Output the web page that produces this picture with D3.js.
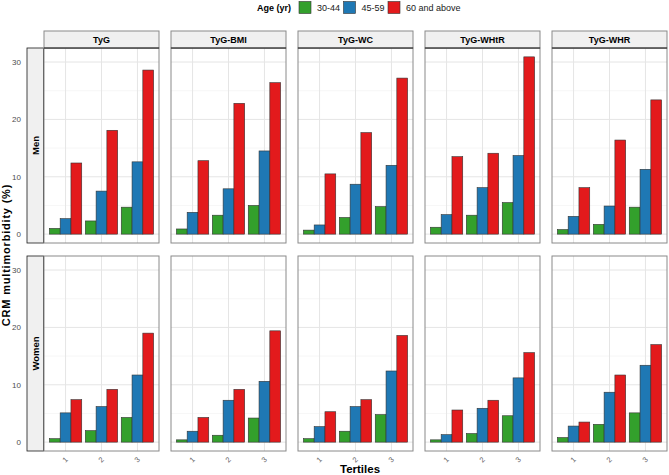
<!DOCTYPE html>
<html>
<head>
<meta charset="utf-8">
<script src="https://cdn.jsdelivr.net/npm/d3@7"></script>
<style>
  body { margin: 0; background: #fff; }
  text { font-family: "Liberation Sans", Arial, sans-serif; }
</style>
</head>
<body>
<svg id="chart" width="669" height="475"></svg>
<script>
var indices = ["TyG", "TyG-BMI", "TyG-WC", "TyG-WHtR", "TyG-WHR"];
var sexes = ["Men", "Women"];
var tertiles = ["1", "2", "3"];
var ageGroups = ["30-44", "45-59", "60 and above"];
var ageColors = ["#33a02c", "#1f78b4", "#e31a1c"];
var yTicks = [0, 10, 20, 30];
var yMinor = [5, 15, 25];

// values[tertile][age] for each index, men
var menTyG     = [[1.0, 2.7, 12.4], [2.3, 7.5, 18.1], [4.7, 12.6, 28.6]];
var menTyGBMI  = [[0.9, 3.8, 12.8], [3.3, 7.9, 22.8], [5.0, 14.5, 26.4]];
var menTyGWC   = [[0.7, 1.6, 10.5], [2.9, 8.7, 17.7], [4.8, 12.0, 27.2]];
var menTyGWHtR = [[1.2, 3.4, 13.5], [3.3, 8.1, 14.1], [5.5, 13.7, 30.9]];
var menTyGWHR  = [[0.8, 3.1, 8.1], [1.7, 4.9, 16.4], [4.7, 11.3, 23.4]];
// women
var womenTyG     = [[0.6, 5.1, 7.4], [2.0, 6.2, 9.2], [4.3, 11.7, 19.0]];
var womenTyGBMI  = [[0.4, 1.9, 4.3], [1.2, 7.3, 9.2], [4.2, 10.6, 19.4]];
var womenTyGWC   = [[0.6, 2.7, 5.3], [1.9, 6.2, 7.4], [4.8, 12.4, 18.6]];
var womenTyGWHtR = [[0.4, 1.3, 5.6], [1.5, 5.9, 7.3], [4.6, 11.2, 15.6]];
var womenTyGWHR  = [[0.8, 2.8, 3.5], [3.1, 8.7, 11.7], [5.1, 13.4, 17.0]];

var menData = [menTyG, menTyGBMI, menTyGWC, menTyGWHtR, menTyGWHR];
var womenData = [womenTyG, womenTyGBMI, womenTyGWC, womenTyGWHtR, womenTyGWHR];
var allData = [menData, womenData];

var svg = d3.select("#chart");

var panelW = 115, panelH = 195;
var rowTop = [48, 256];

var maxVal = d3.max(allData.flat(3));
var pad = maxVal * 0.05;

var colX = (c) => 44 + c * 127;

var x = d3.scaleLinear().domain([0.4, 3.6]).range([0, panelW]);

allData.forEach(function(rowData, r) {
  var top = rowTop[r];
  var y = d3.scaleLinear().domain([-pad, maxVal + pad]).range([top + panelH, top]);

  // y tick labels
  svg.append("g").selectAll("text").data(yTicks).enter().append("text")
    .attr("x", 21).attr("y", d => y(d) + 3)
    .attr("text-anchor", "end")
    .attr("font-size", 8).attr("fill", "#4d4d4d")
    .text(d => d);

  // row strip
  svg.append("rect")
    .attr("x", 27).attr("y", top).attr("width", 16.5).attr("height", panelH)
    .attr("fill", "#f0f0f0").attr("stroke", "#1a1a1a").attr("stroke-width", 0.8);
  svg.append("text")
    .attr("transform", "translate(38.5," + (top + panelH / 2) + ") rotate(-90)")
    .attr("text-anchor", "middle").attr("font-size", 9.5).attr("font-weight", "bold")
    .text(sexes[r]);

  rowData.forEach(function(vals, c) {
    var left = colX(c);
    var g = svg.append("g").attr("transform", "translate(" + left + ",0)");

    g.append("rect").attr("x", 0).attr("y", top).attr("width", panelW).attr("height", panelH)
      .attr("fill", "#fff");

    g.selectAll(".minor").data(yMinor).enter().append("line")
      .attr("x1", 0).attr("x2", panelW).attr("y1", d => y(d)).attr("y2", d => y(d))
      .attr("stroke", "#f2f2f2").attr("stroke-width", 0.6);
    g.selectAll(".major").data(yTicks).enter().append("line")
      .attr("x1", 0).attr("x2", panelW).attr("y1", d => y(d)).attr("y2", d => y(d))
      .attr("stroke", "#e5e5e5").attr("stroke-width", 1);
    g.selectAll(".vgrid").data(tertiles).enter().append("line")
      .attr("x1", (d, i) => x(i + 1)).attr("x2", (d, i) => x(i + 1))
      .attr("y1", top).attr("y2", top + panelH)
      .attr("stroke", "#e5e5e5").attr("stroke-width", 1);

    vals.forEach(function(ageVals, t) {
      g.selectAll(null).data(ageVals).enter().append("rect")
        .attr("x", (d, a) => x(t + 1 - 0.45 + a * 0.3))
        .attr("width", x(0.7) - x(0.4))
        .attr("y", d => y(d))
        .attr("height", d => y(0) - y(d))
        .attr("fill", (d, a) => ageColors[a])
        .attr("stroke", "#333").attr("stroke-width", 0.6);
    });

    g.append("rect").attr("x", 0).attr("y", top).attr("width", panelW).attr("height", panelH)
      .attr("fill", "none").attr("stroke", "#8a8a8a").attr("stroke-width", 1);

    if (r === 0) {
      g.append("rect").attr("x", 0).attr("y", 31).attr("width", panelW).attr("height", 17)
        .attr("fill", "#f0f0f0").attr("stroke", "#8a8a8a").attr("stroke-width", 1);
      g.append("line").attr("x1", 0).attr("x2", panelW).attr("y1", 48).attr("y2", 48)
        .attr("stroke", "#1a1a1a").attr("stroke-width", 1);
      g.append("text").attr("x", panelW / 2).attr("y", 43)
        .attr("text-anchor", "middle").attr("font-size", 9).attr("font-weight", "bold")
        .text(indices[c]);
    } else {
      g.selectAll(".xt").data(tertiles).enter().append("text")
        .attr("transform", (d, i) => "translate(" + (x(i + 1) + 3) + "," + (top + panelH + 9) + ") rotate(-45)")
        .attr("text-anchor", "end").attr("font-size", 7.5).attr("fill", "#666")
        .text(d => d);
    }
  });
});

// axis titles
svg.append("text")
  .attr("transform", "translate(9.5,255) rotate(-90)")
  .attr("text-anchor", "middle").attr("font-size", 11).attr("font-weight", "bold")
  .attr("letter-spacing", 0.8)
  .text("CRM multimorbidity (%)");
svg.append("text")
  .attr("x", 360).attr("y", 473)
  .attr("text-anchor", "middle").attr("font-size", 11.5).attr("font-weight", "bold")
  .text("Tertiles");

// legend
var legend = svg.append("g");
legend.append("text").attr("x", 257).attr("y", 11).attr("font-size", 9).attr("font-weight", "bold")
  .text("Age (yr)");
var legendX = [299, 343.5, 388];
ageGroups.forEach(function(label, i) {
  legend.append("rect").attr("x", legendX[i]).attr("y", 1.5).attr("width", 12).attr("height", 12)
    .attr("fill", ageColors[i]).attr("stroke", "#333").attr("stroke-width", 0.6);
  legend.append("text").attr("x", legendX[i] + 18).attr("y", 10.5).attr("font-size", 9)
    .attr("fill", "#1a1a1a").text(label);
});
</script>
</body>
</html>
